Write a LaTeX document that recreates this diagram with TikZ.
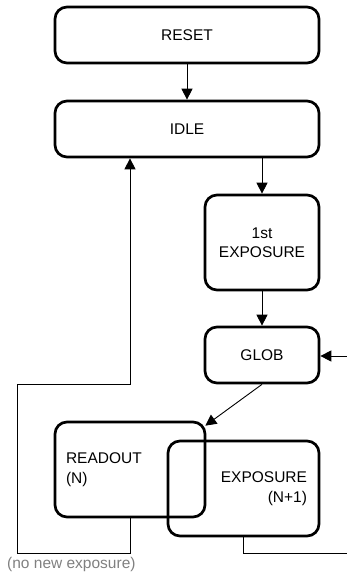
\documentclass[tikz,border=0pt]{standalone}
\usepackage{fontspec}
\setmainfont{Liberation Sans}
\usetikzlibrary{arrows.meta}
\begin{document}
\begin{tikzpicture}[x=1pt,y=-1pt,
  box/.style={draw, line width=2.7pt, rounded corners=12pt, inner sep=0pt, align=center,
    font=\fontsize{15.5}{19.5}\selectfont},
  conn/.style={line width=0.9pt},
  arrow/.style={conn, -{Triangle[length=11pt,width=11pt]}},
  note/.style={font=\fontsize{15.5}{19.5}\selectfont, text=black!50, inner sep=0pt}]
\useasboundingbox (0,0) rectangle (347,584);
\node[box, minimum width=264pt, minimum height=56pt] (reset) at (187,35) {RESET};
\node[box, minimum width=264pt, minimum height=56pt] (idle) at (187,129) {IDLE};
\node[box, minimum width=114pt, minimum height=95pt] (first) at (262,242.5) {1st\\EXPOSURE};
\node[box, minimum width=114pt, minimum height=56pt] (glob) at (262,355) {GLOB};
\node[box, minimum width=150pt, minimum height=95pt, text width=128pt, align=left, inner xsep=11pt] (readout) at (130,469.5) {READOUT\\(N)};
\node[box, minimum width=151pt, minimum height=95pt, text width=127pt, align=right, inner xsep=12pt] (expo) at (243.5,488.5) {EXPOSURE\\(N+1)};
\node[note, anchor=west] (nonew) at (7,564) {(no new exposure)};
\coordinate (c1) at (17,553);
\coordinate (c2) at (130,384);
\coordinate (c3) at (347,553);
\coordinate (c4) at (347,356);
\draw[arrow] (reset) -- (idle);
\draw[arrow] (idle.south -| first) -- (first);
\draw[arrow] (first) -- (glob);
\draw[arrow] (c4) -- (glob.east |- c4);
\draw[arrow] (glob.south) -- ([xshift=-1pt,yshift=-5pt]readout.north east);
\draw[arrow] (readout.south) |- (c1) |- (c2) -- (idle.south -| c2);
\draw[conn] (expo.south) |- (c3);
\end{tikzpicture}
\end{document}
